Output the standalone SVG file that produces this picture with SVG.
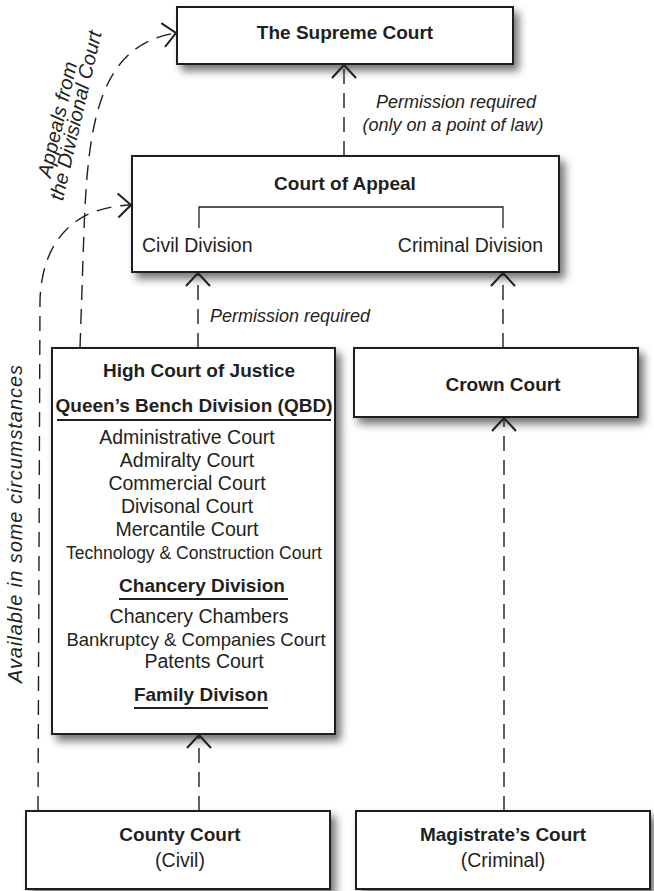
<svg xmlns="http://www.w3.org/2000/svg" width="654" height="891" viewBox="0 0 654 891">
<style>
text{font-family:"Liberation Sans",Arial,sans-serif;fill:#231f20}
.b{font-weight:bold;font-size:19px}
.r{font-size:19.5px}
.i{font-style:italic;font-size:18px}
.il{font-style:italic;font-size:20px}
.m{text-anchor:middle}
.box{fill:#fff;stroke:#231f20;stroke-width:2}
.con{fill:none;stroke:#231f20;stroke-width:1.4;stroke-dasharray:15 9}
.ul{stroke:#231f20;stroke-width:2}
.br{fill:none;stroke:#231f20;stroke-width:1.3}
</style>
<defs>
<filter id="sh" x="-10%" y="-10%" width="130%" height="140%">
<feDropShadow dx="5" dy="6" stdDeviation="4" flood-color="#000" flood-opacity="0.55"/>
</filter>
<marker id="ah" markerUnits="userSpaceOnUse" markerWidth="30" markerHeight="30" viewBox="-15 -15 30 30" refX="0" refY="0" orient="auto">
<path d="M -13 -12 L 0 0 L -13 12" fill="none" stroke="#231f20" stroke-width="2"/>
</marker>
</defs>

<g id="supreme">
<rect class="box" x="177" y="7" width="336" height="57" filter="url(#sh)"/>
<text class="b m" x="345" y="39">The Supreme Court</text>
</g>

<g id="appeal">
<rect class="box" x="132" y="156" width="427" height="116" filter="url(#sh)"/>
<text class="b m" x="345" y="190">Court of Appeal</text>
<path class="br" d="M199 228 V207 H503 V228"/>
<text class="r" x="142" y="252">Civil Division</text>
<text class="r" x="543" y="252" text-anchor="end">Criminal Division</text>
</g>

<g id="highcourt">
<rect class="box" x="52" y="348" width="283" height="386" filter="url(#sh)"/>
<text class="b m" x="199" y="377">High Court of Justice</text>
<text class="b m" x="194" y="412">Queen’s Bench Division (QBD)</text>
<line class="ul" x1="57" y1="420" x2="331" y2="420"/>
<text class="r m" x="187" y="444">Administrative Court</text>
<text class="r m" x="187" y="467">Admiralty Court</text>
<text class="r m" x="187" y="490">Commercial Court</text>
<text class="r m" x="187" y="513">Divisonal Court</text>
<text class="r m" x="187" y="536">Mercantile Court</text>
<text class="m" x="194" y="559" style="font-size:17.5px">Technology &amp; Construction Court</text>
<text class="b m" x="202" y="592">Chancery Division</text>
<line class="ul" x1="119" y1="599" x2="288" y2="599"/>
<text class="r m" x="199" y="623">Chancery Chambers</text>
<text class="m" x="196" y="646" style="font-size:18.5px">Bankruptcy &amp; Companies Court</text>
<text class="r m" x="204" y="668">Patents Court</text>
<text class="b m" x="201" y="701">Family Divison</text>
<line class="ul" x1="134" y1="708" x2="268" y2="708"/>
</g>

<g id="crown">
<rect class="box" x="354" y="348" width="284" height="69" filter="url(#sh)"/>
<text class="b m" x="503" y="391">Crown Court</text>
</g>

<g id="county">
<rect class="box" x="26" y="811" width="304" height="78" filter="url(#sh)"/>
<text class="b m" x="180" y="841">County Court</text>
<text class="r m" x="180" y="867">(Civil)</text>
</g>

<g id="magistrate">
<rect class="box" x="356" y="811" width="294" height="78" filter="url(#sh)"/>
<text class="b m" x="503" y="841">Magistrate’s Court</text>
<text class="r m" x="503" y="867">(Criminal)</text>
</g>

<g id="connectors">
<path class="con" d="M344 156 V65" marker-end="url(#ah)"/>
<path class="con" d="M198 348 V273" marker-end="url(#ah)"/>
<path class="con" d="M503 348 V273" marker-end="url(#ah)"/>
<path class="con" d="M504 811 V418" marker-end="url(#ah)"/>
<path class="con" d="M199 811 V735" marker-end="url(#ah)"/>
<path class="con" d="M38 811 L40 300 C42 245 70 207 131 205" marker-end="url(#ah)"/>
<path class="con" d="M80 348 L84 230 C88 120 100 45 176 33" marker-end="url(#ah)"/>
<text class="i m" x="456" y="108">Permission required</text>
<text class="i m" x="453" y="131">(only on a point of law)</text>
<text class="i" x="210" y="322">Permission required</text>
<g transform="translate(64,121) rotate(-77)">
<text class="il m" x="0" y="0">Appeals from</text>
<text class="il m" x="8" y="17">the Divisional Court</text>
</g>
<text class="il m" transform="translate(22,524) rotate(-90)" x="0" y="0" textLength="318" lengthAdjust="spacing">Available in some circumstances</text>
</g>
</svg>
